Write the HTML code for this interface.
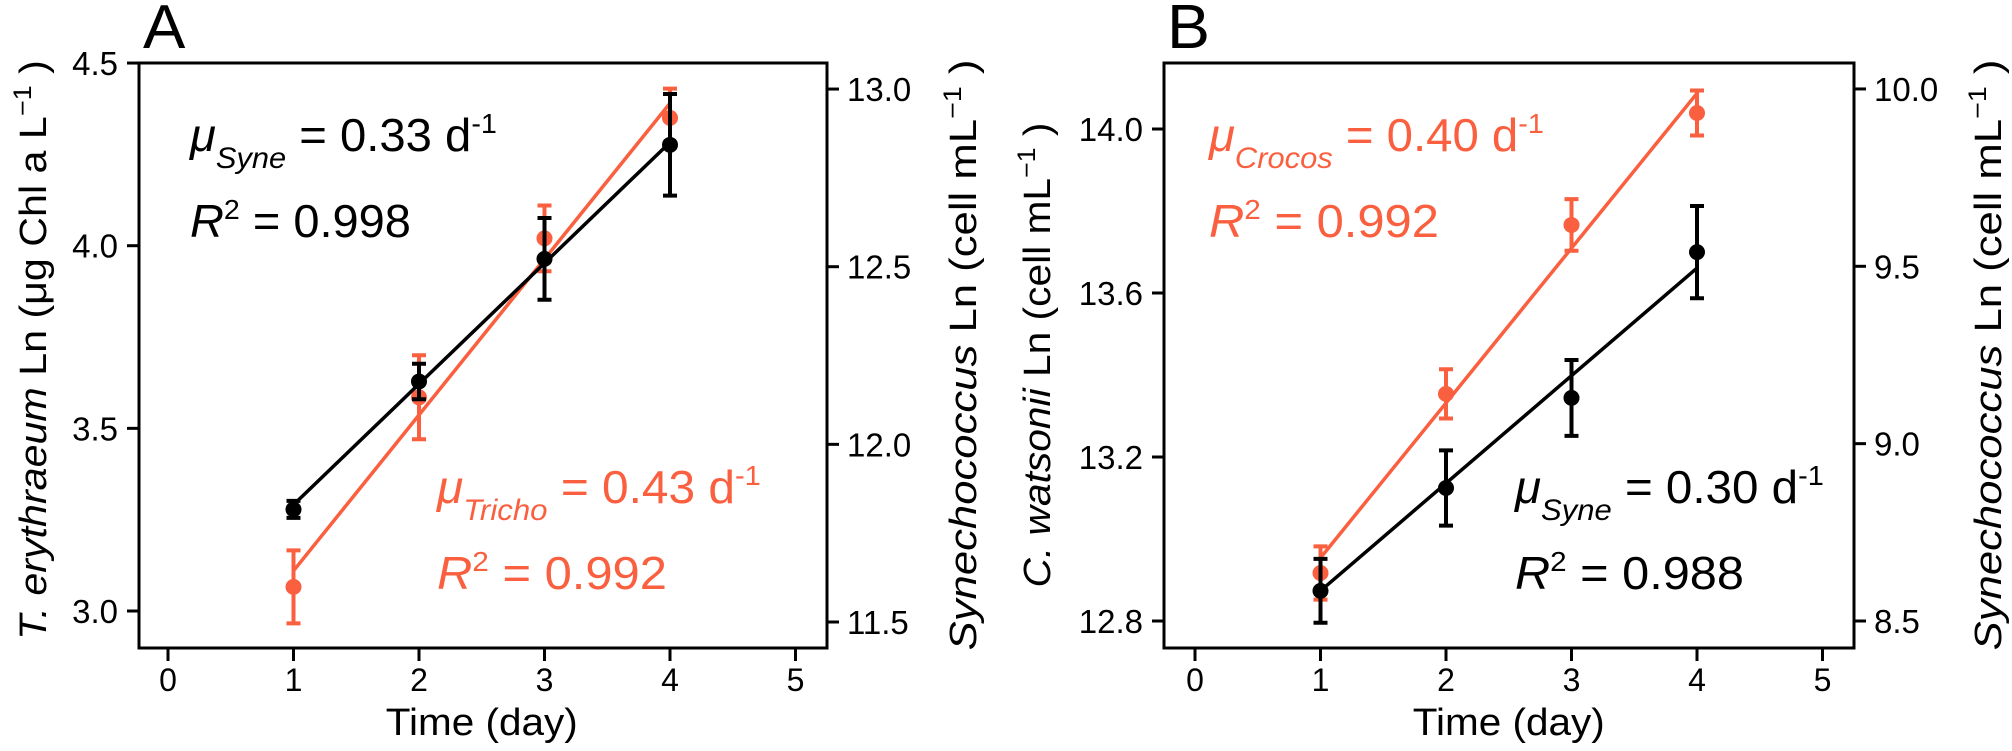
<!DOCTYPE html>
<html><head><meta charset="utf-8"><style>
html,body{margin:0;padding:0;background:#fff;}
svg{display:block;font-family:"Liberation Sans",Arial,sans-serif;}
</style></head><body>
<svg id="fig" width="2012" height="751" viewBox="0 0 2012 751">
<g id="gA"></g>
<g id="gB"></g>
</svg>
<script>
const days = [1, 2, 3, 4];
const xTicks = [0, 1, 2, 3, 4, 5];
// Panel A
const aTrichoVals = [3.066, 3.585, 4.02, 4.35];
const aTrichoErr = [0.10, 0.115, 0.09, 0.08];
const aTrichoFit = [3.11, 4.39];
const aSyneVals = [11.817, 12.177, 12.522, 12.843];
const aSyneErr = [0.024, 0.05, 0.115, 0.143];
const aSyneFit = [11.83, 12.85];
const aLeftTicks = ["3.0", "3.5", "4.0", "4.5"];
const aRightTicks = ["11.5", "12.0", "12.5", "13.0"];
// Panel B
const bCrocosVals = [12.917, 13.354, 13.766, 14.039];
const bCrocosErr = [0.065, 0.06, 0.063, 0.055];
const bCrocosFit = [12.954, 14.087];
const bSyneVals = [8.585, 8.875, 9.129, 9.54];
const bSyneErr = [0.09, 0.106, 0.107, 0.13];
const bSyneFit = [8.585, 9.495];
const bLeftTicks = ["12.8", "13.2", "13.6", "14.0"];
const bRightTicks = ["8.5", "9.0", "9.5", "10.0"];

const NS = "http://www.w3.org/2000/svg";
const ORANGE = "#FA5F3F";
function mk(parent, tag, attrs, text) {
  const e = document.createElementNS(NS, tag);
  for (const k in attrs) e.setAttribute(k, attrs[k]);
  if (text !== undefined) e.textContent = text;
  parent.appendChild(e);
  return e;
}
function natW(el) { try { return el.getBBox().width || 1; } catch (e) { return 1; } }
const TOP = 63, BOT = 648;

function panel(g, cfg) {
  const xs = d => cfg.x0 + d * 125.5;
  const box = mk(g, "rect", {x: cfg.left, y: TOP, width: cfg.right - cfg.left, height: BOT - TOP, fill: "none", stroke: "#000", "stroke-width": 3});
  
  
  xTicks.forEach(t => {
    const tk = mk(g, "line", {x1: xs(t), x2: xs(t), y1: BOT, y2: BOT + 13, stroke: "#000", "stroke-width": 3});
    
    
    const tl = mk(g, "text", {x: xs(t), y: 691, "font-size": 32, "text-anchor": "middle"}, String(t));
    
    
  });
  const xt = mk(g, "text", {x: 0, y: 0, "font-size": 38, "text-anchor": "middle"}, "Time (day)");
  
  
  const sx = 192 / natW(xt);
  xt.setAttribute("transform", `translate(${xs(2.5)},735) scale(${sx},1)`);
  cfg.leftTicks.forEach(s => {
    const y = cfg.yl(parseFloat(s));
    const tk = mk(g, "line", {x1: cfg.left - 12, x2: cfg.left, y1: y, y2: y, stroke: "#000", "stroke-width": 3});
    
    
    const tl = mk(g, "text", {x: cfg.left - 21, y: y + 12, "font-size": 33, "text-anchor": "end"}, s);
    
    
  });
  cfg.rightTicks.forEach(s => {
    const y = cfg.yr(parseFloat(s));
    const tk = mk(g, "line", {x1: cfg.right, x2: cfg.right + 12, y1: y, y2: y, stroke: "#000", "stroke-width": 3});
    
    
    const tl = mk(g, "text", {x: cfg.right + 20, y: y + 12, "font-size": 33}, s);
    
    
  });
  cfg.series.forEach(s => {
    const sg = mk(g, "g", {});
    
    
    const fl = mk(sg, "line", {x1: xs(days[0]), y1: s.ys(s.fit[0]), x2: xs(days[days.length - 1]), y2: s.ys(s.fit[1]), stroke: s.color, "stroke-width": 3.5});
    
    
    days.forEach((d, i) => {
      const x = xs(d), yt = s.ys(s.vals[i] + s.err[i]), yb = s.ys(s.vals[i] - s.err[i]);
      const eb = mk(sg, "path", {d: `M${x},${yt}V${yb}M${x - 7},${yt}H${x + 7}M${x - 7},${yb}H${x + 7}`, stroke: s.color, "stroke-width": 4, fill: "none"});
      
      
      const pt = mk(sg, "circle", {cx: x, cy: s.ys(s.vals[i]), r: 8, fill: s.color});
      
      
    });
  });
}

function yTitle(g, cx, cy, len, italic, rest, name) {
  const t = mk(g, "text", {"font-size": 38, "text-anchor": "middle", x: 0, y: 13});
  
  
  mk(t, "tspan", {"font-style": "italic"}, italic);
  mk(t, "tspan", {}, rest);
  mk(t, "tspan", {dy: -15, "font-size": 25}, "\u22121");
  mk(t, "tspan", {dy: 15}, " )");
  const s = len / natW(t);
  t.setAttribute("transform", `translate(${cx},${cy}) rotate(-90) scale(${s},1)`);
}

function annot(g, x, y, color, sub, val, r2, w1, w2, name) {
  const ag = mk(g, "g", {fill: color});
  
  
  const t1 = mk(ag, "text", {x: 0, y: 0, "font-size": 46});
  mk(t1, "tspan", {"font-style": "italic"}, "\u03bc");
  mk(t1, "tspan", {"font-style": "italic", "font-size": 30, dy: 17}, sub);
  mk(t1, "tspan", {dy: -17}, " = " + val + " d");
  mk(t1, "tspan", {"font-size": 28, dy: -18}, "-1");
  t1.setAttribute("transform", `translate(${x},${y}) scale(${w1 / natW(t1)},1)`);
  const t2 = mk(ag, "text", {x: 0, y: 0, "font-size": 46});
  mk(t2, "tspan", {"font-style": "italic"}, "R");
  mk(t2, "tspan", {"font-size": 28, dy: -18}, "2");
  mk(t2, "tspan", {dy: 18}, " = " + r2);
  t2.setAttribute("transform", `translate(${x},${y + 86}) scale(${w2 / natW(t2)},1)`);
}

function label(g, x, txt, name) {
  const l = mk(g, "text", {x: 0, y: 0, "font-size": 62}, txt);
  
  
  l.setAttribute("transform", `translate(${x},48) scale(${43 / natW(l)},1)`);
}

const gA = document.getElementById("gA");
const aL = v => 611 - (v - 3.0) * 365.3;
const aR = v => 622 - (v - 11.5) * 355.3;
panel(gA, {x0: 168, left: 139, right: 827, yl: aL, yr: aR, leftTicks: aLeftTicks, rightTicks: aRightTicks,
  series: [
    {name: "series-tricho", color: ORANGE, vals: aTrichoVals, err: aTrichoErr, fit: aTrichoFit, ys: aL},
    {name: "series-syne-a", color: "#000", vals: aSyneVals, err: aSyneErr, fit: aSyneFit, ys: aR}
  ]});
yTitle(gA, 33, 350, 580, "T. erythraeum", " Ln (\u03bcg Chl a  L", "left-y-axis-title-a");
yTitle(gA, 963, 355, 591, "Synechococcus", " Ln (cell mL", "right-y-axis-title-a");
annot(gA, 190, 151, "#000", "Syne", "0.33", "0.998", 308, 221, "annotation-syne-a");
annot(gA, 437, 503, ORANGE, "Tricho", "0.43", "0.992", 325, 230, "annotation-tricho");
label(gA, 143, "A", "panel-label-a");

const gB = document.getElementById("gB");
const bL = v => 621 - (v - 12.8) * 410;
const bR = v => 621 - (v - 8.5) * 354.7;
panel(gB, {x0: 1195, left: 1164, right: 1854, yl: bL, yr: bR, leftTicks: bLeftTicks, rightTicks: bRightTicks,
  series: [
    {name: "series-crocos", color: ORANGE, vals: bCrocosVals, err: bCrocosErr, fit: bCrocosFit, ys: bL},
    {name: "series-syne-b", color: "#000", vals: bSyneVals, err: bSyneErr, fit: bSyneFit, ys: bR}
  ]});
yTitle(gB, 1037, 355, 465, "C. watsonii", " Ln (cell mL", "left-y-axis-title-b");
yTitle(gB, 1988, 355, 591, "Synechococcus", " Ln (cell mL", "right-y-axis-title-b");
annot(gB, 1209, 151, ORANGE, "Crocos", "0.40", "0.992", 336, 230, "annotation-crocos");
annot(gB, 1515, 503, "#000", "Syne", "0.30", "0.988", 310, 229, "annotation-syne-b");
label(gB, 1167, "B", "panel-label-b");
</script>
</body></html>
